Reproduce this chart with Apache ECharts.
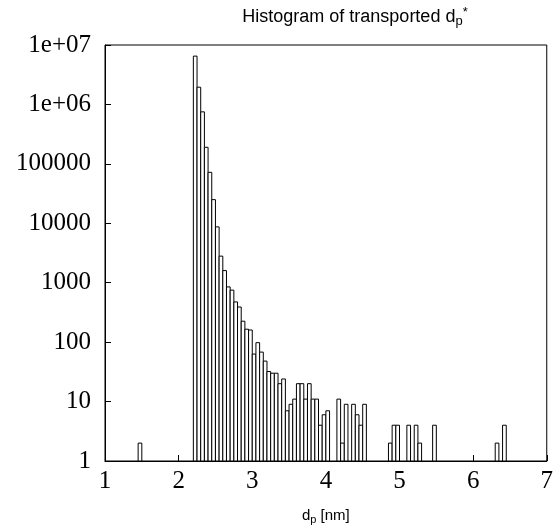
<!DOCTYPE html>
<html>
<head>
<meta charset="utf-8">
<script src="https://cdn.jsdelivr.net/npm/echarts@6/dist/echarts.min.js"></script>
<style>
  html, body { margin: 0; padding: 0; background: #fff; }
  #chart { width: 556px; height: 531px; }
</style>
</head>
<body>
<div id="chart"></div>
<script>
// histogram bins (left edge, nm) and counts, empty bins left out
const binWidth = 0.05;
const binLeft = [
  1.45,
  2.20, 2.25, 2.30, 2.35, 2.40, 2.45, 2.50, 2.55, 2.60, 2.65,
  2.70, 2.75, 2.80, 2.85, 2.90, 2.95, 3.00, 3.05, 3.10, 3.15,
  3.20, 3.25, 3.30, 3.35, 3.40, 3.45, 3.50, 3.55, 3.60, 3.65,
  3.70, 3.75, 3.80, 3.85, 3.90, 3.95, 4.00,
  4.15, 4.20, 4.25, 4.35, 4.40, 4.45, 4.50,
  4.85, 4.90, 4.95, 5.10, 5.20, 5.25, 5.45,
  6.30, 6.40
];
const counts = [
  2,
  6500000, 1950000, 750000, 190000, 72000, 25000, 8700, 2800, 1600, 850,
  750, 475, 390, 225, 165, 160, 63, 98, 68, 48,
  32, 30, 30, 20, 24, 7, 9, 11, 20, 20,
  11, 20, 11, 11, 4, 6, 7,
  11, 2, 9, 9, 6, 4, 9,
  2, 4, 4, 4, 4, 2, 4,
  2, 4
];
const xTicks = [1, 2, 3, 4, 5, 6, 7];
const yTickLabels = ['1', '10', '100', '1000', '10000', '100000', '1e+06', '1e+07'];

const serif = '"Liberation Serif", "Times New Roman", serif';
const sans = '"Liberation Sans", Arial, sans-serif';

const data = binLeft.map((x, i) => [x, counts[i]]);

const chart = echarts.init(document.getElementById('chart'), null, { renderer: 'canvas' });

const option = {
  backgroundColor: '#fff',
  animation: false,
  title: {
    text: 'Histogram of transported d{sub|p}{sup|*}',
    left: 350,
    top: 1,
    textAlign: 'center',
    textStyle: {
      fontFamily: sans,
      fontSize: 18,
      fontWeight: 'normal',
      color: '#000',
      rich: {
        sub: { fontFamily: sans, fontSize: 13, color: '#000', padding: [9, 0, 0, 0] },
        sup: { fontFamily: sans, fontSize: 13, color: '#000', padding: [0, 0, 9, 0] }
      }
    }
  },
  grid: {
    left: 105, right: 9, top: 45, bottom: 70,
    show: true, borderColor: '#000', borderWidth: 1, backgroundColor: 'transparent'
  },
  xAxis: {
    type: 'value',
    min: xTicks[0],
    max: xTicks[xTicks.length - 1],
    interval: 1,
    name: 'd{sub|p} [nm]',
    nameLocation: 'middle',
    nameGap: 45,
    nameTextStyle: {
      fontFamily: sans, fontSize: 15, color: '#000',
      rich: {
        sub: { fontFamily: sans, fontSize: 11, color: '#000', padding: [8, 0, 0, 0] }
      }
    },
    axisLine: { show: true, lineStyle: { color: '#000' } },
    axisTick: { show: true, inside: true, length: 6, lineStyle: { color: '#000' } },
    splitLine: { show: false },
    axisLabel: { fontFamily: serif, fontSize: 25, color: '#000', margin: 8 }
  },
  yAxis: {
    type: 'log',
    logBase: 10,
    min: 1,
    max: 1e7,
    splitNumber: 7,
    axisLine: { show: true, lineStyle: { color: '#000' } },
    axisTick: { show: true, inside: true, length: 6, lineStyle: { color: '#000' } },
    splitLine: { show: false },
    axisLabel: {
      fontFamily: serif, fontSize: 25, color: '#000', margin: 14,
      formatter: v => yTickLabels[Math.round(Math.log10(v))]
    }
  },
  series: [{
    type: 'custom',
    clip: true,
    data: data,
    renderItem: (params, api) => {
      const x0 = api.value(0);
      const c = api.value(1);
      const p0 = api.coord([x0, c]);
      const p1 = api.coord([x0 + binWidth, 1]);
      return {
        type: 'rect',
        shape: { x: p0[0], y: p0[1], width: p1[0] - p0[0], height: p1[1] - p0[1] },
        style: { fill: '#fff', stroke: '#000', lineWidth: 1 }
      };
    }
  }]
};

chart.setOption(option);
</script>
</body>
</html>
